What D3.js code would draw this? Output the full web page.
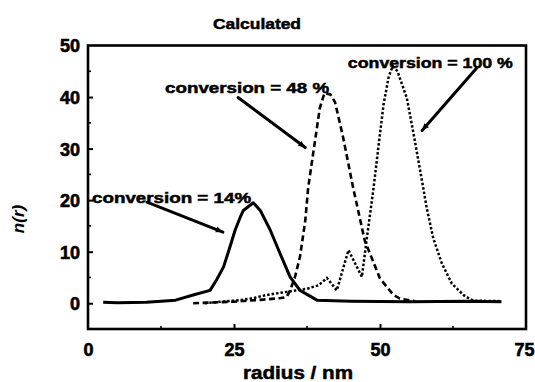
<!DOCTYPE html>
<html><head><meta charset="utf-8">
<script src="https://cdn.jsdelivr.net/npm/d3@7"></script>
<style>
html,body{margin:0;padding:0;background:#fff;}
svg{display:block;}
text{font-family:"Liberation Sans",Arial,sans-serif;font-weight:bold;fill:#000;}
</style></head>
<body>
<svg id="chart" width="535" height="382"></svg>
<script>
// ---- data ----
const r14 = [2.6, 5, 10, 15, 18, 20.9, 22, 23.2, 24.3, 25.2, 26, 26.6, 28.3, 29.5, 31.2, 32.9, 34.6, 36.3, 39.2, 45, 55, 65, 70.8];
const n14 = [0.2, 0.1, 0.2, 0.6, 1.6, 2.5, 4.5, 7, 10.9, 14.2, 16.5, 18, 19.5, 18, 14.2, 9.6, 5.1, 2.5, 0.6, 0.4, 0.3, 0.4, 0.3];

const r48 = [18, 25, 30, 33, 34, 34.6, 35.4, 36.3, 37.2, 37.7, 38.6, 39.7, 40.5, 41.5, 42.3, 43.7, 45.4, 47.4, 50, 52.3, 53.4, 56];
const n48 = [0, 0.3, 0.7, 1, 1.2, 2.5, 4.9, 9, 16, 22.4, 29.4, 37.9, 40.8, 40.5, 39, 32.1, 22.4, 12.1, 4.8, 1.6, 0.9, 0.4];

const r100 = [20, 26, 28.3, 30.6, 33.4, 35.7, 37.5, 39.5, 40.9, 42.6, 44.6, 46.9, 47.7, 48.9, 49.8, 50.6, 51.5, 52.2, 53, 54.6, 56, 57.4, 58, 59.1, 60.6, 62.3, 64.3, 64.8, 66, 70.8];
const n100 = [0, 0.6, 1.0, 1.6, 2.1, 2.5, 2.8, 3.5, 4.9, 2.5, 10.3, 5.1, 12.2, 22.4, 31, 38.5, 44, 46, 45, 39.8, 31.3, 22.4, 18.5, 12.7, 7.7, 3.8, 1.6, 1.2, 0.5, 0.4];

const xTicks = [0, 25, 50, 75];
const yTicks = [0, 10, 20, 30, 40, 50];
const labels = ["conversion = 14%", "conversion = 48 %", "conversion = 100 %"];
// annotation anchors in data units: text start, arrow start, arrow end
const labelPos = [[0.7, 19.4], [13.2, 40.7], [44.5, 45.7]];
const arrowFrom = [[10.1, 19.6], [25.7, 39.9], [66.6, 45.7]];
const arrowTo = [[23.1, 13.8], [37.2, 30.2], [57.2, 33.5]];

// ---- layout ----
const svg = d3.select("#chart");
const L = 88, R = 526, T = 45.5, B = 329;
const x = d3.scaleLinear().domain([0, 75]).range([L, R]);
const y = d3.scaleLinear().domain([-5, 50]).range([B, T]);

svg.append("rect").attr("width", 535).attr("height", 382).attr("fill", "#fff");

// frame
svg.append("rect").attr("x", L).attr("y", T).attr("width", R - L).attr("height", B - T)
  .attr("fill", "none").attr("stroke", "#000").attr("stroke-width", 2.6);

// y axis
const yAxis = d3.axisLeft(y).tickValues(yTicks).tickSize(-5).tickPadding(8).tickFormat(d3.format("d"));
const gy = svg.append("g").attr("transform", `translate(${L},0)`).call(yAxis);
gy.select(".domain").remove();
gy.selectAll(".tick line").attr("stroke", "#000").attr("stroke-width", 2).filter(d => d === 50).remove();
gy.selectAll(".tick text").attr("font-size", 18).attr("font-family", "Liberation Sans, Arial, sans-serif")
  .attr("font-weight", "bold").attr("dy", "0.36em").attr("stroke", "#000").attr("stroke-width", 0.6);
// minor y ticks
svg.append("g").selectAll("line").data([5, 15, 25, 35, 45]).join("line")
  .attr("x1", L).attr("x2", L + 3).attr("y1", d => y(d)).attr("y2", d => y(d))
  .attr("stroke", "#000").attr("stroke-width", 1.6);

// x axis
const xAxis = d3.axisBottom(x).tickValues(xTicks).tickSize(-5).tickPadding(14).tickFormat(d3.format("d"));
const gx = svg.append("g").attr("transform", `translate(0,${B})`).call(xAxis);
gx.select(".domain").remove();
gx.selectAll(".tick line").attr("stroke", "#000").attr("stroke-width", 2).filter(d => d === 0 || d === 75).remove();
gx.selectAll(".tick text").attr("font-size", 18).attr("font-family", "Liberation Sans, Arial, sans-serif")
  .attr("font-weight", "bold").attr("stroke", "#000").attr("stroke-width", 0.6);
gx.selectAll(".tick text").filter(d => d === 75).attr("text-anchor", "end").attr("x", 534 - x(75));
svg.append("g").selectAll("line").data([12.5, 37.5, 62.5]).join("line")
  .attr("x1", d => x(d)).attr("x2", d => x(d)).attr("y1", B).attr("y2", B - 3)
  .attr("stroke", "#000").attr("stroke-width", 1.6);

// curves
const line = d3.line().x(d => x(d[0])).y(d => y(d[1]));
const zip = (a, b) => a.map((v, i) => [v, b[i]]);
svg.append("path").datum(zip(r14, n14)).attr("d", line)
  .attr("fill", "none").attr("stroke", "#000").attr("stroke-width", 3).attr("stroke-linejoin", "round");
svg.append("path").datum(zip(r48, n48)).attr("d", line)
  .attr("fill", "none").attr("stroke", "#000").attr("stroke-width", 2.6).attr("stroke-dasharray", "6,3.5");
svg.append("path").datum(zip(r100, n100)).attr("d", line)
  .attr("fill", "none").attr("stroke", "#000").attr("stroke-width", 2.5).attr("stroke-dasharray", "2.5,2");

// annotations
const widths = [159, 164, 165];
labels.forEach((t, i) => {
  svg.append("text").attr("x", x(labelPos[i][0])).attr("y", y(labelPos[i][1]))
    .attr("font-size", 15).attr("textLength", widths[i]).attr("lengthAdjust", "spacingAndGlyphs")
    .attr("stroke", "#000").attr("stroke-width", 0.5)
    .text(t);
  const x1 = x(arrowFrom[i][0]), y1 = y(arrowFrom[i][1]), x2 = x(arrowTo[i][0]), y2 = y(arrowTo[i][1]);
  svg.append("line").attr("x1", x1).attr("y1", y1).attr("x2", x2).attr("y2", y2)
    .attr("stroke", "#000").attr("stroke-width", 3).attr("stroke-linecap", "round");
  const ang = Math.atan2(y2 - y1, x2 - x1);
  const hl = 7, hw = 3;
  const bx = x2 - hl * Math.cos(ang), by = y2 - hl * Math.sin(ang);
  const px = -Math.sin(ang) * hw, py = Math.cos(ang) * hw;
  svg.append("path").attr("d", `M${x2},${y2}L${bx + px},${by + py}L${bx - px},${by - py}Z`).attr("fill", "#000");
});

// titles
svg.append("text").attr("x", 257).attr("y", 29).attr("text-anchor", "middle").attr("font-size", 15)
  .attr("textLength", 88).attr("lengthAdjust", "spacingAndGlyphs").attr("stroke", "#000").attr("stroke-width", 0.5).text("Calculated");
svg.append("text").attr("x", 298).attr("y", 379).attr("text-anchor", "middle").attr("font-size", 18)
  .attr("textLength", 110).attr("lengthAdjust", "spacingAndGlyphs").attr("stroke", "#000").attr("stroke-width", 0.5).text("radius / nm");
svg.append("text").attr("transform", "translate(24,219) rotate(-90)").attr("text-anchor", "middle")
  .attr("font-size", 17).attr("font-style", "italic").text("n(r)");
</script>
</body></html>
